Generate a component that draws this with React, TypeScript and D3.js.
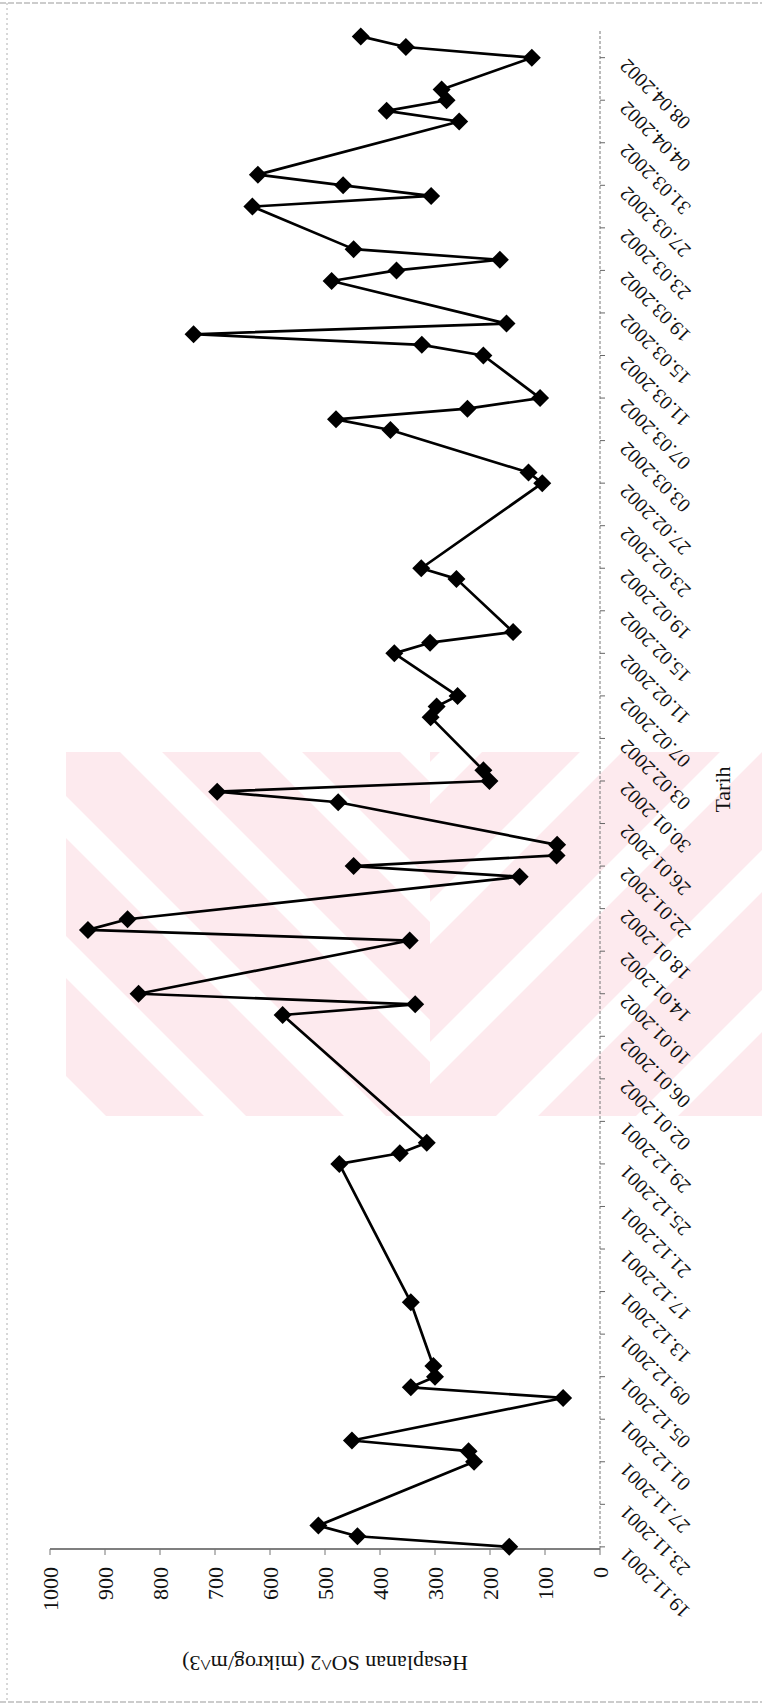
import React from "react";
import * as d3 from "d3";

const W = 762;
const H = 1707;

// Measurement dates and calculated SO2 values (mikrog/m^3)
const dates: string[] = [
  "19.11.2001", "20.11.2001", "21.11.2001", "27.11.2001", "28.11.2001", "29.11.2001",
  "03.12.2001", "04.12.2001", "05.12.2001", "06.12.2001", "12.12.2001",
  "25.12.2001", "26.12.2001", "27.12.2001",
  "08.01.2002", "09.01.2002", "10.01.2002", "15.01.2002", "16.01.2002", "17.01.2002",
  "21.01.2002", "22.01.2002", "23.01.2002", "24.01.2002",
  "28.01.2002", "29.01.2002", "30.01.2002", "31.01.2002",
  "05.02.2002", "06.02.2002", "07.02.2002", "11.02.2002", "12.02.2002", "13.02.2002",
  "18.02.2002", "19.02.2002", "27.02.2002", "28.02.2002",
  "04.03.2002", "05.03.2002", "06.03.2002", "07.03.2002",
  "11.03.2002", "12.03.2002", "13.03.2002", "14.03.2002",
  "18.03.2002", "19.03.2002", "20.03.2002", "21.03.2002",
  "25.03.2002", "26.03.2002", "27.03.2002", "28.03.2002",
  "02.04.2002", "03.04.2002", "04.04.2002", "05.04.2002",
  "08.04.2002", "09.04.2002", "10.04.2002",
];

const so2: number[] = [
  165, 441, 512, 229, 239, 451,
  67, 344, 300, 303, 344,
  474, 364, 315,
  577, 336, 839, 346, 931, 859,
  146, 448, 79, 78,
  476, 696, 201, 212,
  308, 297, 259, 374, 309, 158,
  261, 325, 105, 130,
  381, 480, 241, 109,
  212, 324, 739, 170,
  488, 370, 182, 448,
  632, 307, 467, 622,
  256, 388, 279, 288,
  124, 353, 435,
];

const dateTicks: string[] = [
  "19.11.2001", "23.11.2001", "27.11.2001", "01.12.2001", "05.12.2001", "09.12.2001",
  "13.12.2001", "17.12.2001", "21.12.2001", "25.12.2001", "29.12.2001", "02.01.2002",
  "06.01.2002", "10.01.2002", "14.01.2002", "18.01.2002", "22.01.2002", "26.01.2002",
  "30.01.2002", "03.02.2002", "07.02.2002", "11.02.2002", "15.02.2002", "19.02.2002",
  "23.02.2002", "27.02.2002", "03.03.2002", "07.03.2002", "11.03.2002", "15.03.2002",
  "19.03.2002", "23.03.2002", "27.03.2002", "31.03.2002", "04.04.2002", "08.04.2002",
];

const valueTicks: number[] = [0, 100, 200, 300, 400, 500, 600, 700, 800, 900, 1000];

const yTitle = "Hesaplanan SO^2 (mikrog/m^3)";
const xTitle = "Tarih";

export default function App() {
  const parse = d3.utcParse("%d.%m.%Y");
  const DAY = 864e5;
  const start = parse(dates[0]) as Date;
  const x = d3
    .scaleUtc()
    .domain([new Date(+start - 0.2 * DAY), new Date(+start + 142.6 * DAY)])
    .range([158, 1677]);
  const y = d3.scaleLinear().domain([0, 1000]).range([600, 50]);

  const pts: [number, number][] = dates.map((d, i) => [x(parse(d) as Date), y(so2[i])]);
  const path = d3.line()(pts) ?? "";
  const font = "'Liberation Serif', 'Times New Roman', serif";
  const [x0, x1] = x.range();
  const [y0, y1] = y.range();

  // watermark (decorative) region
  const wm = { x: 66, y: 752, w: 696, h: 364 };
  const split = 430;
  const stripesR: string[] = [];
  for (let s = 300; s < 1300; s += 140) {
    stripesR.push(
      `${s},${wm.y} ${s + 42},${wm.y} ${s + 42 - wm.h},${wm.y + wm.h} ${s - wm.h},${wm.y + wm.h}`
    );
  }
  const stripesL: string[] = [];
  for (let s = -300; s < 500; s += 140) {
    stripesL.push(
      `${s},${wm.y} ${s + 42},${wm.y} ${s + 42 + wm.h},${wm.y + wm.h} ${s + wm.h},${wm.y + wm.h}`
    );
  }

  const diamond = (r: number) => `M0,${-r}L${r},0L0,${r}L${-r},0Z`;

  return (
    <svg
      width={W}
      height={H}
      style={{ position: "absolute", left: 0, top: 0 }}
      xmlns="http://www.w3.org/2000/svg"
    >
      <defs>
        <clipPath id="wmclipL">
          <rect x={wm.x} y={wm.y} width={split - wm.x} height={wm.h} />
        </clipPath>
        <clipPath id="wmclipR">
          <rect x={split} y={wm.y} width={wm.x + wm.w - split} height={wm.h} />
        </clipPath>
      </defs>
      <rect width={W} height={H} fill="#ffffff" />
      <rect x={wm.x} y={wm.y} width={wm.w} height={wm.h} fill="#fdeaee" />
      <g clipPath="url(#wmclipL)">
        {stripesL.map((p, i) => (
          <polygon key={i} points={p} fill="#ffffff" />
        ))}
      </g>
      <g clipPath="url(#wmclipR)">
        {stripesR.map((p, i) => (
          <polygon key={i} points={p} fill="#ffffff" />
        ))}
      </g>

      {/* outer frame */}
      <line x1={0} y1={3} x2={W} y2={3} stroke="#9a9a9a" strokeWidth={1.2} strokeDasharray="6,2" />
      <line x1={7} y1={3} x2={7} y2={1702} stroke="#b0b0b0" strokeWidth={1} strokeDasharray="2,3" />
      <line x1={0} y1={1702} x2={W} y2={1702} stroke="#9a9a9a" strokeWidth={1.2} strokeDasharray="6,2" />

      <g transform={`translate(0,${H}) rotate(-90)`} fontFamily={font} fill="#111">
        {/* value axis */}
        <line x1={x0} y1={y0} x2={x0} y2={y1} stroke="#555" strokeWidth={1.3} />
        {valueTicks.map((v) => (
          <g key={v}>
            <line x1={x0} y1={y(v)} x2={x0 - 6} y2={y(v)} stroke="#777" strokeWidth={1} />
            <text
              x={140}
              y={y(v)}
              textAnchor="end"
              dominantBaseline="central"
              fontSize={22}
            >
              {v}
            </text>
          </g>
        ))}

        {/* date axis */}
        <line x1={x0} y1={y0} x2={x1} y2={y0} stroke="#777" strokeWidth={1} strokeDasharray="3,2" />
        {dateTicks.map((d) => {
          const tx = x(parse(d) as Date);
          return (
            <g key={d}>
              <line x1={tx} y1={y0} x2={tx} y2={y0 + 5} stroke="#666" strokeWidth={1} />
              <text
                transform={`translate(${tx},${628}) rotate(-45)`}
                textAnchor="end"
                fontSize={20}
              >
                {d}
              </text>
            </g>
          );
        })}

        {/* series */}
        <path d={path} fill="none" stroke="#000" strokeWidth={2.7} strokeLinejoin="round" />
        {pts.map(([px, py], i) => (
          <path key={i} d={diamond(9)} transform={`translate(${px},${py})`} fill="#000" />
        ))}

        {/* titles */}
        <text
          transform={`translate(44,${(y0 + y1) / 2}) rotate(-90)`}
          textAnchor="middle"
          dominantBaseline="central"
          fontSize={22}
        >
          {yTitle}
        </text>
        <text
          x={(x0 + x1) / 2}
          y={722}
          textAnchor="middle"
          dominantBaseline="central"
          fontSize={22}
        >
          {xTitle}
        </text>
      </g>
    </svg>
  );
}
